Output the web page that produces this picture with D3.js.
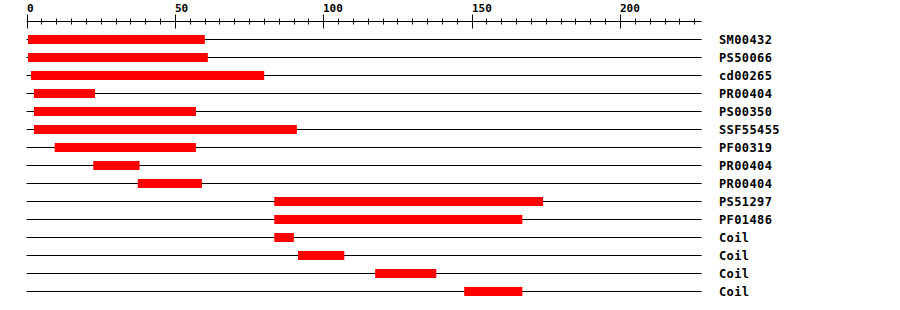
<!DOCTYPE html>
<html>
<head>
<meta charset="utf-8">
<script src="https://cdn.jsdelivr.net/npm/d3@7"></script>
<style>
	body { margin: 0; background: #fff; }
	text { font-family: "DejaVu Sans Mono", monospace; font-weight: bold; }
</style>
</head>
<body>
<svg id="chart" width="900" height="310"></svg>
<script>

// feature names, one per track
var names = ['SM00432', 'PS50066', 'cd00265', 'PR00404', 'PS00350', 'SSF55455', 'PF00319',
	'PR00404', 'PR00404', 'PS51297', 'PF01486', 'Coil', 'Coil', 'Coil', 'Coil'];
// residue ranges
var starts = [1, 1, 2, 3, 3, 3, 10, 23, 38, 84, 84, 84, 92, 118, 148];
var ends = [60, 61, 80, 23, 57, 91, 57, 38, 59, 174, 167, 90, 107, 138, 167];

var seqLength = 227.5;
var majorTicks = [0, 50, 100, 150, 200];
var minorStep = 5;

var svg = d3.select('#chart');

var x = d3.scaleLinear()
	.domain([0, 200])
	.range([26.5, 620]);

var y = function (i) { return 39.5 + i * 18; };

// ruler
var axisY = 21.5;
svg.append('line')
	.attr('x1', x(0)).attr('x2', x(seqLength))
	.attr('y1', axisY).attr('y2', axisY)
	.attr('stroke', 'black');

var minor = d3.range(0, seqLength, minorStep);
svg.selectAll('line.minor')
	.data(minor)
	.enter()
	.append('line')
	.attr('class', 'minor')
	.attr('x1', function (d) { return Math.round(x(d)) + 0.5; })
	.attr('x2', function (d) { return Math.round(x(d)) + 0.5; })
	.attr('y1', function (d) { return d % 50 == 0 ? 14.5 : 18.5; })
	.attr('y2', function (d) { return d % 50 == 0 ? 28.5 : 24.5; })
	.attr('stroke', 'black');

svg.selectAll('text.tick')
	.data(majorTicks)
	.enter()
	.append('text')
	.attr('class', 'tick')
	.attr('x', function (d) { return Math.round(x(d)); })
	.attr('y', 12)
	.attr('font-size', 11)
	.text(function (d) { return d; });

// tracks
var tracks = svg.selectAll('g.track')
	.data(names)
	.enter()
	.append('g')
	.attr('class', 'track');

tracks.append('line')
	.attr('x1', x(0)).attr('x2', x(seqLength))
	.attr('y1', function (d, i) { return y(i); })
	.attr('y2', function (d, i) { return y(i); })
	.attr('stroke', 'black');

// a residue covers half a unit on each side of its number
tracks.append('rect')
	.attr('x', function (d, i) { return x(starts[i] - 0.5); })
	.attr('width', function (d, i) { return x(ends[i] + 0.1) - x(starts[i] - 0.5); })
	.attr('y', function (d, i) { return y(i) - 4.5; })
	.attr('height', 9)
	.attr('fill', '#ff0000');

tracks.append('text')
	.attr('x', 719)
	.attr('y', function (d, i) { return y(i) + 4; })
	.attr('font-size', 12)
	.attr('letter-spacing', 0.4)
	.text(function (d) { return d; });

</script>
</body>
</html>
